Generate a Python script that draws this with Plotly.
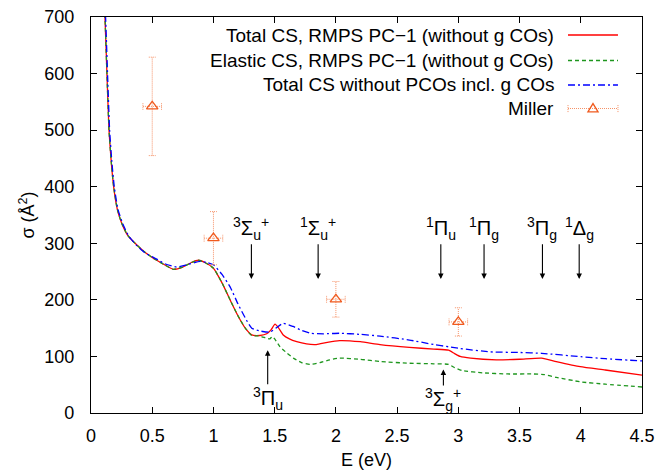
import plotly.graph_objects as go

# ---------------- data ----------------
E_total = [0.105, 0.114, 0.131, 0.147, 0.165, 0.185, 0.215, 0.25, 0.3, 0.36, 0.43, 0.5, 0.537, 0.6,
           0.672, 0.75, 0.82, 0.877, 0.93, 1.0, 1.07, 1.136, 1.2, 1.26, 1.313, 1.38, 1.435, 1.47,
           1.503, 1.53, 1.57, 1.62, 1.68, 1.76, 1.84, 1.93, 2.03, 2.2, 2.36, 2.6, 2.8, 2.92, 2.97,
           3.015, 3.1, 3.31, 3.5, 3.68, 3.8, 3.995, 4.2, 4.5]
S_total = [730, 700, 594, 500, 445, 400, 360, 336, 314, 300, 286, 275, 270, 262,
           254, 258, 266, 270, 266, 256, 230, 200, 172, 150, 138, 137, 140, 147,
           157, 151, 138, 131, 126, 122, 121, 125, 128, 126, 121, 116, 113, 111, 105,
           100, 97, 94, 95, 97, 91, 82, 76, 67]

E_elastic = [0.105, 0.114, 0.131, 0.147, 0.165, 0.185, 0.215, 0.25, 0.3, 0.36, 0.43, 0.5, 0.537, 0.6,
             0.672, 0.75, 0.82, 0.877, 0.93, 1.0, 1.07, 1.136, 1.2, 1.26, 1.313, 1.38, 1.435, 1.46,
             1.48, 1.5, 1.544, 1.6, 1.653, 1.72, 1.79, 1.87, 1.95, 2.03, 2.2, 2.36, 2.6, 2.8, 2.92,
             2.97, 3.03, 3.2, 3.4, 3.61, 3.7, 3.8, 4.0, 4.2, 4.5]
S_elastic = [730, 700, 594, 500, 445, 400, 360, 336, 314, 300, 286, 275, 270, 262,
             254, 258, 266, 270, 266, 256, 230, 200, 172, 150, 137, 136, 132, 131,
             135, 131, 117, 106, 97, 89, 86, 89, 94, 97, 95, 91, 88, 87, 86,
             80, 75, 71, 69, 69, 68, 63, 55, 51, 46]

E_nopco = [0.11, 0.119, 0.136, 0.152, 0.17, 0.19, 0.22, 0.26, 0.31, 0.37, 0.44, 0.537, 0.6, 0.7,
           0.78, 0.89, 0.95, 1.0, 1.07, 1.136, 1.2, 1.27, 1.313, 1.38, 1.46, 1.51, 1.57, 1.65,
           1.72, 1.79, 1.9, 2.03, 2.2, 2.36, 2.6, 2.8, 2.92, 3.015, 3.26, 3.5, 3.68, 4.0, 4.2, 4.5]
S_nopco = [730, 700, 594, 500, 445, 400, 360, 334, 312, 297, 283, 272, 264, 258,
           262, 268, 266, 262, 245, 223, 193, 164, 150, 145, 143, 150, 158.5, 153,
           146, 141, 140, 141, 139, 136, 129, 121, 117, 114, 108, 107, 105.5, 99.5, 96, 92]

E_miller = [0.5, 1.0, 2.0, 3.0]
S_miller = [542, 309, 201, 161]
S_miller_err = [87, 47, 31.5, 25]
E_miller_err = [0.076, 0.076, 0.076, 0.076]

legend_labels = ["Total CS, RMPS PC\u22121 (without g COs)",
                 "Elastic CS, RMPS PC\u22121 (without g COs)",
                 "Total CS without PCOs incl. g COs",
                 "Miller"]

# state labels: (text, energy, arrow tail sigma, arrow tip sigma)
down_states = [("<sup>3</sup>\u03a3<sub>u</sub><sup>+</sup>", 1.31, 300, 237),
               ("<sup>1</sup>\u03a3<sub>u</sub><sup>+</sup>", 1.855, 300, 237),
               ("<sup>1</sup>\u03a0<sub>u</sub>", 2.857, 300, 237),
               ("<sup>1</sup>\u03a0<sub>g</sub>", 3.21, 300, 237),
               ("<sup>3</sup>\u03a0<sub>g</sub>", 3.687, 300, 237),
               ("<sup>1</sup>\u0394<sub>g</sub>", 3.987, 300, 237)]
up_states = [("<sup>3</sup>\u03a0<sub>u</sub>", 1.443, 49, 111),
             ("<sup>3</sup>\u03a3<sub>g</sub><sup>+</sup>", 2.878, 47, 77)]

# ---------------- style ----------------
FONT = "Liberation Sans, Arial, Helvetica, sans-serif"
RED = "#ff0000"
GREEN = "#1e961e"
BLUE = "#0000ff"
ORANGE = "#f05a1e"
ORANGE_L = "#f59268"

fig = go.Figure()

fig.add_trace(go.Scatter(x=E_total, y=S_total, mode="lines", name=legend_labels[0],
                         line=dict(color=RED, width=1.3, shape="spline", smoothing=0.5)))
fig.add_trace(go.Scatter(x=E_elastic, y=S_elastic, mode="lines", name=legend_labels[1],
                         line=dict(color=GREEN, width=1.3, dash="4px,3px", shape="spline", smoothing=0.5)))
fig.add_trace(go.Scatter(x=E_nopco, y=S_nopco, mode="lines", name=legend_labels[2],
                         line=dict(color=BLUE, width=1.3, dash="7px,3px,2px,3px", shape="spline", smoothing=0.5)))

# Miller error bars (dotted), built from data arrays
capx = 0.028
capy = 6.0
ex, ey = [], []
for e, s, se, ee in zip(E_miller, S_miller, S_miller_err, E_miller_err):
    ex += [e, e, None, e - capx, e + capx, None, e - capx, e + capx, None]
    ey += [s - se, s + se, None, s - se, s - se, None, s + se, s + se, None]
    ex += [e - ee, e + ee, None, e - ee, e - ee, None, e + ee, e + ee, None]
    ey += [s, s, None, s - capy, s + capy, None, s - capy, s + capy, None]
fig.add_trace(go.Scatter(x=ex, y=ey, mode="lines", showlegend=False, hoverinfo="skip",
                         line=dict(color=ORANGE_L, width=1, dash="1px,1px")))
fig.add_trace(go.Scatter(x=E_miller, y=S_miller, mode="markers", name=legend_labels[3],
                         marker=dict(symbol="triangle-up-open", size=10, color=ORANGE,
                                     line=dict(width=1.3, color=ORANGE))))

annotations = []
for txt, e, tail, tip in down_states:
    annotations.append(dict(x=e, y=tip, ax=e, ay=tail, xref="x", yref="y", axref="x", ayref="y",
                            text=" ", font=dict(size=1), borderpad=0, showarrow=True,
                            arrowhead=2, arrowsize=1, arrowwidth=1.1, arrowcolor="black"))
    annotations.append(dict(x=e, y=tail - 3, xref="x", yref="y", text=txt, showarrow=False,
                            xanchor="center", yanchor="bottom",
                            font=dict(family=FONT, size=20, color="black")))
for txt, e, tail, tip in up_states:
    annotations.append(dict(x=e, y=tip, ax=e, ay=tail, xref="x", yref="y", axref="x", ayref="y",
                            text=" ", font=dict(size=1), borderpad=0, showarrow=True,
                            arrowhead=2, arrowsize=1, arrowwidth=1.1, arrowcolor="black"))
    annotations.append(dict(x=e, y=tail + 6, xref="x", yref="y", text=txt, showarrow=False,
                            xanchor="center", yanchor="top",
                            font=dict(family=FONT, size=20, color="black")))

# manual gnuplot-style key (text right-aligned, sample on the right)
row_y = [0.9545, 0.8902, 0.8283, 0.7689]
text_x = 0.844
k0, k1 = 0.8657, 0.9564
shapes = []
key_styles = [dict(color=RED, width=1.3), dict(color=GREEN, width=1.3, dash="4px,3px"),
              dict(color=BLUE, width=1.3, dash="7px,3px,2px,3px"),
              dict(color=ORANGE_L, width=1, dash="1px,1px")]
for lbl, yy, st in zip(legend_labels, row_y, key_styles):
    annotations.append(dict(x=text_x, y=yy, xref="paper", yref="paper", text=lbl, showarrow=False,
                            xanchor="right", yanchor="middle",
                            font=dict(family=FONT, size=19, color="black")))
    shapes.append(dict(type="line", xref="paper", yref="paper", x0=k0, x1=k1, y0=yy, y1=yy, line=st))
ym = row_y[3]
for xx in (k0, k1):
    shapes.append(dict(type="line", xref="paper", yref="paper", x0=xx, x1=xx, y0=ym - 0.009, y1=ym + 0.009,
                       line=dict(color=ORANGE_L, width=1, dash="1px,1px")))
xc = (k0 + k1) / 2
shapes.append(dict(type="path", xref="paper", yref="paper",
                   path=f"M {xc-0.0092},{ym-0.0085} L {xc+0.0092},{ym-0.0085} L {xc},{ym+0.0125} Z",
                   line=dict(color=ORANGE, width=1.3), fillcolor="rgba(0,0,0,0)"))

fig.update_layout(
    width=661, height=470,
    margin=dict(l=91, r=19, t=17, b=57),
    paper_bgcolor="white", plot_bgcolor="white",
    showlegend=False,
    font=dict(family=FONT, size=18, color="black"),
    annotations=annotations,
    shapes=shapes,
    xaxis=dict(range=[0, 4.5], tickmode="array", tickvals=[0, 0.5, 1, 1.5, 2, 2.5, 3, 3.5, 4, 4.5],
               ticktext=["0", "0.5", "1", "1.5", "2", "2.5", "3", "3.5", "4", "4.5"],
               ticks="inside", ticklen=6, tickcolor="black", tickwidth=1,
               showline=True, linecolor="black", linewidth=1.3, mirror="ticks",
               showgrid=False, zeroline=False, ticklabelstandoff=6, automargin=False,
               tickfont=dict(size=18),
               title=dict(text="E (eV)", standoff=8, font=dict(size=18))),
    yaxis=dict(range=[0, 700], tickmode="array", tickvals=[0, 100, 200, 300, 400, 500, 600, 700],
               ticks="inside", ticklen=6, tickcolor="black", tickwidth=1,
               showline=True, linecolor="black", linewidth=1.3, mirror="ticks",
               showgrid=False, zeroline=False, ticklabelstandoff=12, automargin=False,
               tickfont=dict(size=18),
               title=dict(text="\u03c3 (\u00c5<sup>2</sup>)", standoff=4, font=dict(size=18))),
)

fig.write_html("out.html", config={"displayModeBar": False},
               post_script="document.body.style.margin='0';document.body.style.padding='0';")
